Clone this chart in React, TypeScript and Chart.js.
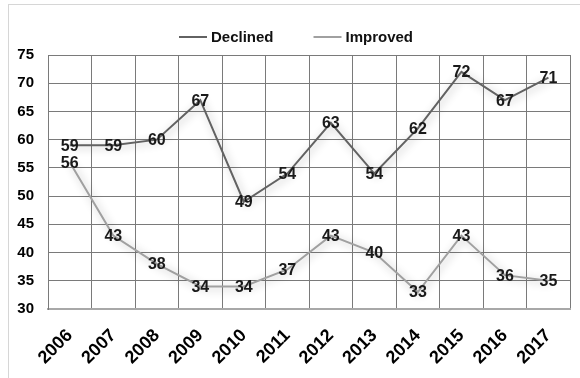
import React, { useEffect, useRef } from "react";
import { Chart, registerables } from "chart.js";

Chart.register(...registerables);

const years = ["2006", "2007", "2008", "2009", "2010", "2011", "2012", "2013", "2014", "2015", "2016", "2017"];
const declined = [59, 59, 60, 67, 49, 54, 63, 54, 62, 72, 67, 71];
const improved = [56, 43, 38, 34, 34, 37, 43, 40, 33, 43, 36, 35];
const yTicks = [30, 35, 40, 45, 50, 55, 60, 65, 70, 75];

const FONT = "'Liberation Sans', Arial, sans-serif";

const shadowPlugin = {
  id: "lineShadow",
  beforeDatasetDraw(chart: any) {
    const ctx = chart.ctx;
    ctx.save();
    ctx.shadowColor = "rgba(0,0,0,0.3)";
    ctx.shadowBlur = 8;
    ctx.shadowOffsetX = 2;
    ctx.shadowOffsetY = 2;
  },
  afterDatasetDraw(chart: any) {
    chart.ctx.restore();
  },
};

const labelPlugin = {
  id: "valueLabels",
  afterDatasetsDraw(chart: any) {
    const ctx = chart.ctx;
    ctx.save();
    ctx.font = `bold 16px ${FONT}`;
    ctx.fillStyle = "#1a1a1a";
    ctx.textAlign = "center";
    ctx.textBaseline = "middle";
    chart.data.datasets.forEach((ds: any, i: number) => {
      const meta = chart.getDatasetMeta(i);
      meta.data.forEach((pt: any, j: number) => {
        ctx.fillText(String(ds.data[j]), pt.x, pt.y + 1);
      });
    });
    ctx.restore();
  },
};

const legendPlugin = {
  id: "customLegend",
  afterDraw(chart: any) {
    const ctx = chart.ctx;
    ctx.save();
    ctx.font = `bold 15px ${FONT}`;
    ctx.textBaseline = "middle";
    ctx.textAlign = "left";
    const sample = 28;
    const gapText = 4;
    const gapItem = 40;
    const items = chart.data.datasets.map((ds: any) => ({
      label: ds.label,
      color: ds.borderColor,
      w: ctx.measureText(ds.label).width,
    }));
    const total = items.reduce((s: number, it: any) => s + sample + gapText + it.w, 0) + gapItem * (items.length - 1);
    let x = 296 - total / 2;
    const y = 37;
    items.forEach((it: any) => {
      ctx.strokeStyle = it.color;
      ctx.lineWidth = 2;
      ctx.beginPath();
      ctx.moveTo(x, y);
      ctx.lineTo(x + sample, y);
      ctx.stroke();
      ctx.fillStyle = "#111";
      ctx.fillText(it.label, x + sample + gapText, y + 1);
      x += sample + gapText + it.w + gapItem;
    });
    ctx.restore();
  },
};

export default function App() {
  const ref = useRef<HTMLCanvasElement | null>(null);

  useEffect(() => {
    if (!ref.current) return;
    const chart = new Chart(ref.current, {
      type: "line",
      data: {
        labels: years,
        datasets: [
          {
            label: "Declined",
            data: declined,
            borderColor: "#626262",
            backgroundColor: "#626262",
            borderWidth: 2,
            pointRadius: 0,
            tension: 0,
          },
          {
            label: "Improved",
            data: improved,
            borderColor: "#a0a0a0",
            backgroundColor: "#a0a0a0",
            borderWidth: 2,
            pointRadius: 0,
            tension: 0,
          },
        ],
      },
      options: {
        animation: false,
        responsive: false,
        maintainAspectRatio: false,
        layout: { padding: { top: 55, right: 7, left: 0, bottom: 0 } },
        plugins: {
          legend: { display: false },
          tooltip: { enabled: false },
        },
        scales: {
          x: {
            type: "category",
            offset: true,
            grid: { color: "#7a7a7a", lineWidth: 1, drawTicks: false, offset: true },
            border: { color: "#a8a8a8", width: 2 },
            ticks: {
              color: "#000",
              font: { family: FONT, size: 18, weight: "bold" },
              minRotation: 45,
              maxRotation: 45,
              padding: 16,
              autoSkip: false,
            },
            afterFit(scale: any) {
              scale.height = 69;
            },
          },
          y: {
            min: 30,
            max: 75,
            afterBuildTicks(scale: any) {
              scale.ticks = yTicks.map((v) => ({ value: v }));
            },
            grid: { color: "#7a7a7a", lineWidth: 1, drawTicks: false },
            border: { color: "#7a7a7a", width: 1 },
            ticks: {
              color: "#000",
              font: { family: FONT, size: 15, weight: "bold" },
              padding: 14,
            },
            afterFit(scale: any) {
              scale.width = 48;
            },
          },
        },
      },
      plugins: [shadowPlugin, labelPlugin, legendPlugin],
    });
    return () => chart.destroy();
  }, []);

  return (
    <div style={{ position: "fixed", left: 0, top: 0, width: 580, height: 378, background: "#fff" }}>
      <div
        style={{
          position: "absolute",
          left: 8,
          top: 4,
          right: 0,
          bottom: 0,
          borderTop: "1px solid #d6d6d6",
          borderLeft: "1px solid #d6d6d6",
        }}
      />
      <canvas ref={ref} width={580} height={378} style={{ position: "absolute", left: 0, top: 0 }} />
    </div>
  );
}
